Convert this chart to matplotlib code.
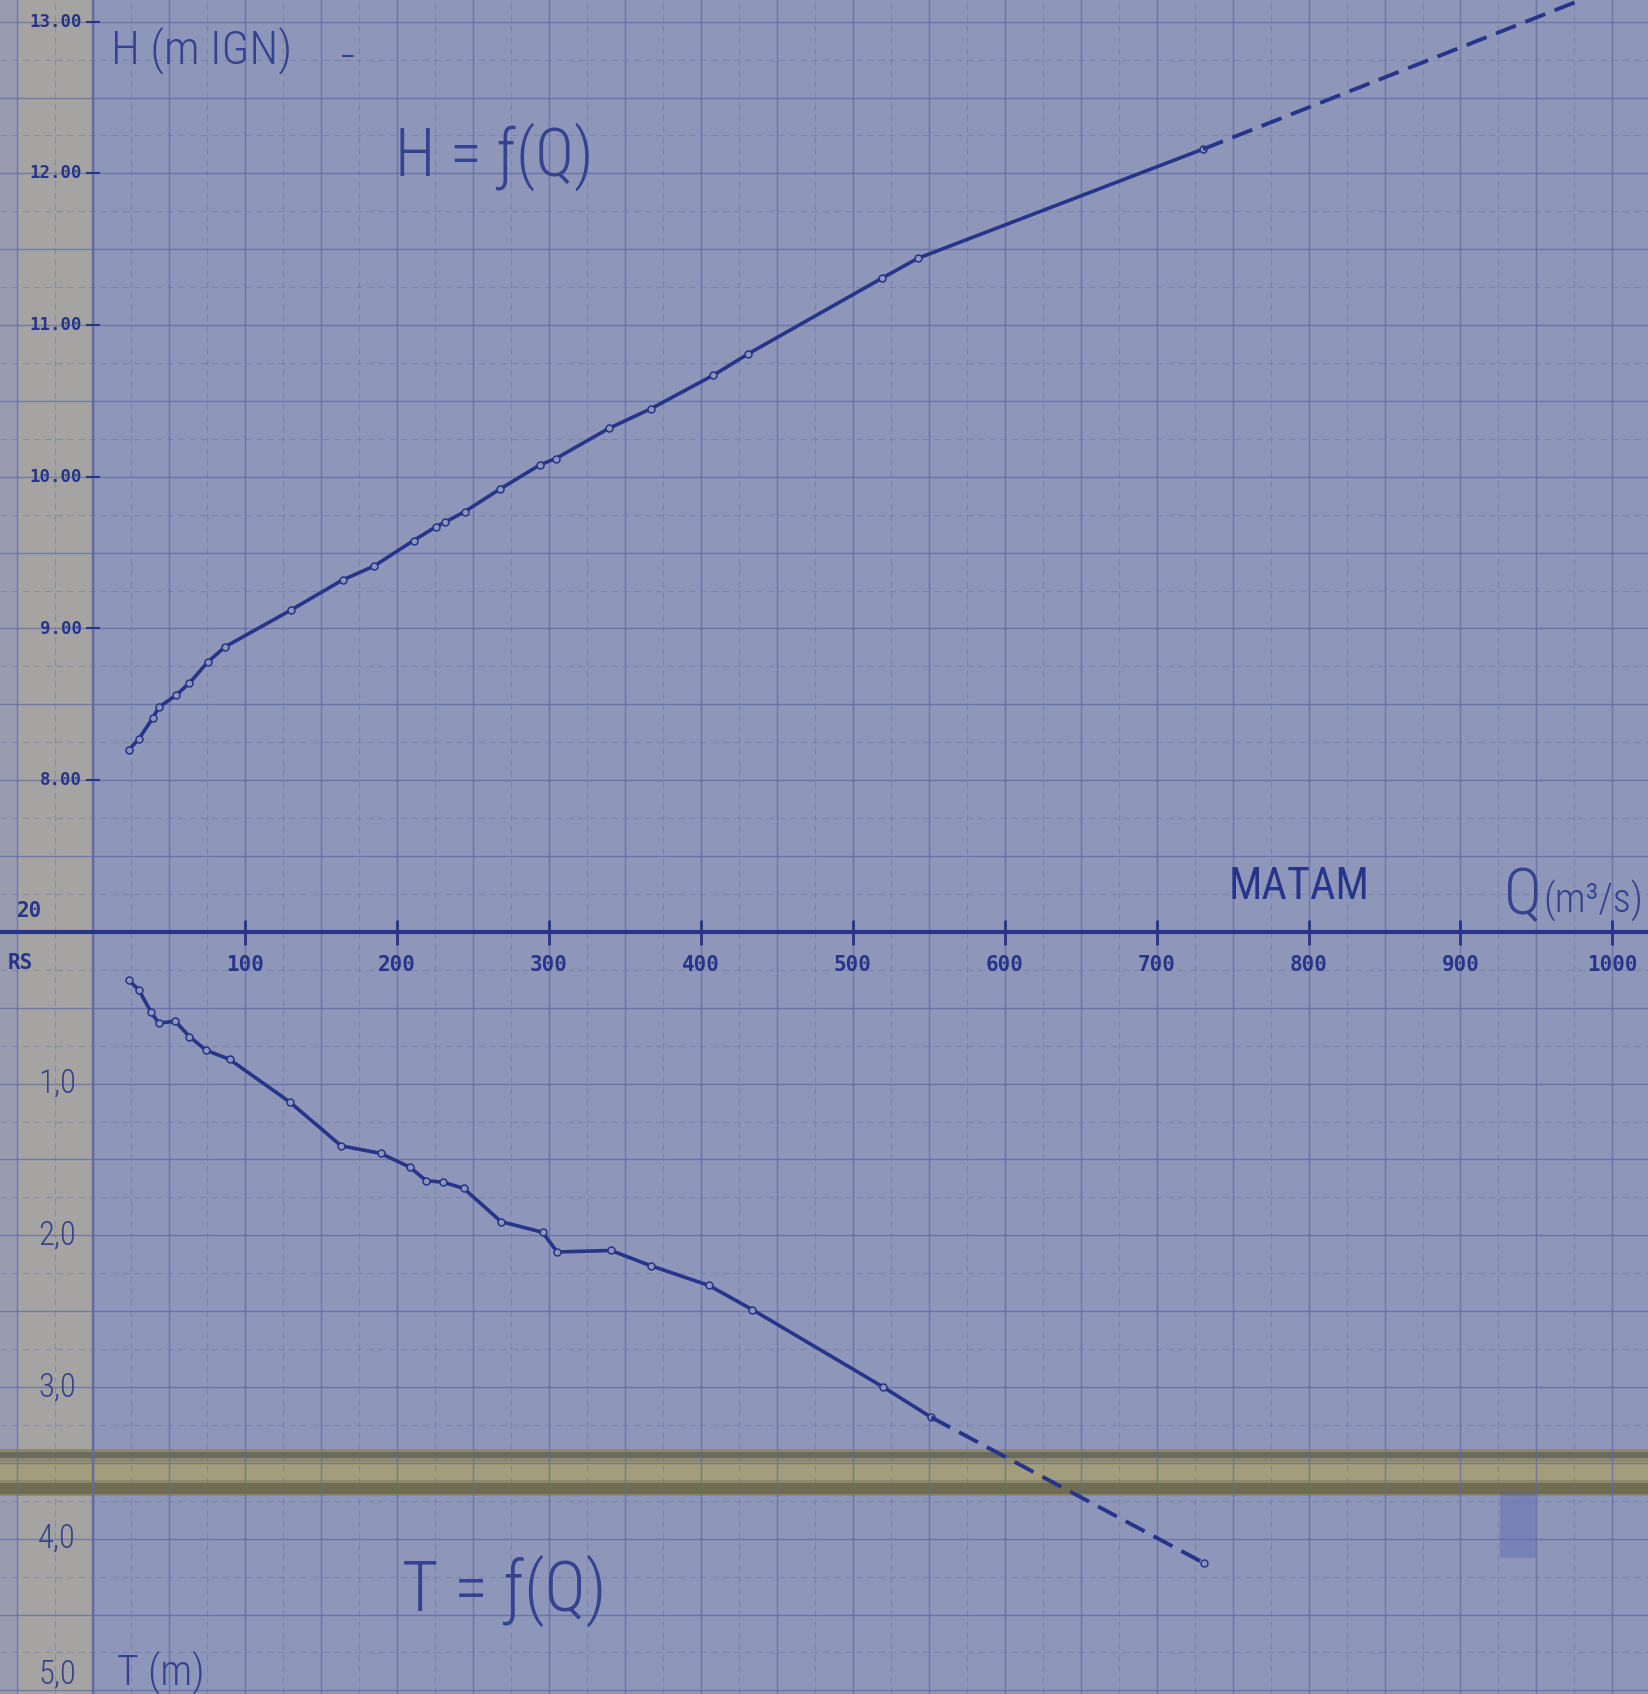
import matplotlib.pyplot as plt
from matplotlib import font_manager
from matplotlib.patches import Rectangle

# ── data (MATAM rating curves) ────────────────────────────
# H = f(Q) : water level (m IGN) against discharge (m3/s)
q_h   = [23.3, 29.8, 39.1, 43.0, 54.4, 63.2, 75.4, 86.8, 129.8, 164.0, 184.5,
         210.8, 225.4, 231.3, 244.4, 267.8, 294.2, 304.4, 339.5, 367.3, 408.2,
         431.0, 519.3, 542.7, 730.5]
h_val = [8.20, 8.27, 8.41, 8.48, 8.56, 8.64, 8.78, 8.88, 9.12, 9.32, 9.41,
         9.58, 9.67, 9.70, 9.77, 9.92, 10.08, 10.12, 10.32, 10.45, 10.67,
         10.81, 11.31, 11.44, 12.16]
q_h_ext = [730.5, 986.0]          # dashed extrapolation
h_ext   = [12.16, 13.17]

# T = f(Q) : depth (m) against discharge (m3/s)
q_t   = [23.3, 29.8, 38.0, 43.0, 54.0, 63.2, 74.2, 89.6, 129.1, 163.1, 189.1,
         208.2, 219.1, 230.1, 243.7, 268.4, 295.7, 305.3, 340.8, 366.8, 405.1,
         433.8, 519.9, 551.6]
t_val = [0.32, 0.38, 0.53, 0.60, 0.59, 0.69, 0.78, 0.84, 1.12, 1.41, 1.46,
         1.55, 1.64, 1.65, 1.69, 1.91, 1.98, 2.11, 2.10, 2.20, 2.33,
         2.49, 3.00, 3.20]
q_t_ext = [551.6, 731.0]
t_ext   = [3.20, 4.16]

q_ticks  = [100, 200, 300, 400, 500, 600, 700, 800, 900, 1000]
q_labels = ["100", "200", "300", "400", "500", "600", "700", "800", "900", "1000"]
h_ticks  = [8, 9, 10, 11, 12, 13]
h_labels = ["8.00", "9.00", "10.00", "11.00", "12.00", "13.00"]
t_ticks  = [1, 2, 3, 4, 5]
t_labels = ["1,0", "2,0", "3,0", "4,0", "5,0"]

# ── sheet geometry (pixels of the scan) ───────────────────
W, HGT = 1649, 1694
X0, PXQ = 93.4, 1.519      # Q = 0 column, px per m3/s
AX, PXM = 931.9, 151.7     # Q axis row, px per metre

q_min, q_max = -X0 / PXQ, (W - X0) / PXQ
h_top = 7 + AX / PXM
t_bot = (HGT - AX) / PXM

PAPER = "#8e96b9"
INK   = "#26348a"
HAND_INK = "#34428f"
GRID  = "#5f6ca4"

names = {f.name for f in font_manager.fontManager.ttflist}
HAND = [n for n in ["Roboto Condensed", "Liberation Sans Narrow", "DejaVu Sans"]
        if n in names] or ["DejaVu Sans"]
HAND = HAND + ["DejaVu Sans"]
STAMP = "DejaVu Sans Mono"

fig = plt.figure(figsize=(W / 100, HGT / 100), dpi=100, facecolor=PAPER)
renderer = fig.canvas.get_renderer()

def fx(px):
    return px / W

def fy(py):
    return 1 - py / HGT

def fit(t, width_px):
    # hand lettering is narrow: size the text to the width it takes on the sheet
    bb = t.get_window_extent(renderer)
    t.set_fontsize(t.get_fontsize() * width_px / bb.width)

# ── background: paper edge, fold band, ink smudge ─────────
bg = fig.add_axes([0, 0, 1, 1], zorder=-1)
bg.set_xlim(0, 1); bg.set_ylim(0, 1); bg.axis("off")
bg.set_facecolor(PAPER)
bg.add_patch(Rectangle((0, 0), fx(18), 1, color="#c2b58c", alpha=0.22, lw=0))
bg.add_patch(Rectangle((fx(18), 0), fx(75), 1, color="#c4b68a", alpha=0.45, lw=0))
bg.add_patch(Rectangle((0, fy(1496)), 1, fy(1449) - fy(1496), color="#8c886c", lw=0))
bg.add_patch(Rectangle((0, fy(1480)), 1, fy(1462) - fy(1480), color="#a49d7b", lw=0))
bg.add_patch(Rectangle((0, fy(1494)), 1, fy(1483) - fy(1494), color="#6f6c52", lw=0))
bg.add_patch(Rectangle((0, fy(1458)), 1, fy(1452) - fy(1458), color="#6b6a5e", lw=0))
bg.add_patch(Rectangle((fx(1500), fy(1558)), fx(36), fy(1492) - fy(1558),
                       color="#4656b4", alpha=0.3, lw=0))

# ── two panels sharing the Q scale ───────────────────────
ax_h = fig.add_axes([0, fy(AX), 1, 1 - fy(AX)])
ax_t = fig.add_axes([0, 0, 1, fy(AX)])

for ax in (ax_h, ax_t):
    ax.set_facecolor("none")
    for s in ax.spines.values():
        s.set_visible(False)
    ax.set_xticks(range(-50, 1051, 50))
    ax.set_xticks(range(-25, 1051, 50), minor=True)
    ax.tick_params(which="both", length=0, labelbottom=False, labelleft=False)
    ax.grid(which="major", color=GRID, lw=1.0, alpha=0.75)
    ax.grid(which="minor", color=GRID, lw=0.8, alpha=0.4, ls=(0, (6, 4)))
    ax.axvline(0, color=GRID, lw=1.7, alpha=0.95)

ax_h.set_yticks([7 + 0.5 * i for i in range(14)])
ax_h.set_yticks([7.25 + 0.5 * i for i in range(13)], minor=True)
ax_t.set_yticks([0.5 * i for i in range(11)])
ax_t.set_yticks([0.25 + 0.5 * i for i in range(11)], minor=True)

# limits last, so the grid ticks do not widen the view
for ax in (ax_h, ax_t):
    ax.set_xlim(q_min, q_max)
ax_h.set_ylim(7, h_top)
ax_t.set_ylim(t_bot, 0)

# Q axis line and tick marks
ax_t.axhline(0, color=INK, lw=3, clip_on=False, zorder=3)
ax_t.plot(q_ticks, [0] * len(q_ticks), ls="none", marker="|", ms=18, mew=2,
          color=INK, clip_on=False, zorder=3)
ax_h.plot([0] * len(h_ticks), h_ticks, ls="none", marker="_", ms=10, mew=1.5,
          color=INK, clip_on=False, zorder=3)

# ── the curves ───────────────────────────────────────────
mk = dict(marker="o", ms=5, mew=1.1, mfc=PAPER, mec=INK)
ax_h.plot(q_h, h_val, color=INK, lw=2.6, zorder=4, **mk)
ax_h.plot(q_h_ext, h_ext, color=INK, lw=2.8, dashes=(5.5, 2.6), zorder=4)
ax_t.plot(q_t, t_val, color=INK, lw=2.6, zorder=4, **mk)
ax_t.plot(q_t_ext, t_ext, color=INK, lw=2.8, dashes=(5.5, 2.6), zorder=4)
ax_t.plot(q_t_ext[-1:], t_ext[-1:], ls="none", **mk)

# ── scale labels ─────────────────────────────────────────
for q, lab in zip(q_ticks, q_labels):
    ax_t.text(q, 0.218, lab, ha="center", va="center", fontsize=15,
              fontweight="bold", family=STAMP, color=INK)
for h, lab in zip(h_ticks, h_labels):
    ax_h.text(-7.5, h, lab, ha="right", va="center", fontsize=12.5,
              fontweight="bold", family=STAMP, color=INK)
for t, lab in zip(t_ticks, t_labels):
    tl = ax_t.text(-11.5, t, lab, ha="right", va="bottom" if t == 5 else "center",
                   fontsize=26, family=HAND, fontstretch="condensed",
                   fontweight="light", color=HAND_INK)
    fit(tl, 38)

fig.text(fx(30), fy(911), "20", ha="center", va="center", fontsize=15,
         fontweight="bold", family=STAMP, color=INK)
fig.text(fx(33), fy(963), "RS", ha="right", va="center", fontsize=15,
         fontweight="bold", family=STAMP, color=INK)

# ── lettering ────────────────────────────────────────────
lettering = [
    # text, left px, baseline px, size, width px
    ("H (m IGN)", 111, 63, 34, 181),
    ("H = ƒ(Q)", 395, 176, 41, 199),
    ("T = ƒ(Q)", 402, 1611, 41, 205),
    ("T (m)", 117, 1684, 32, 88),
    ("MATAM", 1229, 899, 35, 141),
    ("Q", 1504, 914, 50, 38),
    ("(m³/s)", 1543, 912, 33, 100),
]
for txt, x, y, size, width in lettering:
    tl = fig.text(fx(x), fy(y), txt, ha="left", va="baseline", fontsize=size,
                  family=HAND, fontstretch="condensed",
                  fontweight="normal" if txt == "MATAM" else "light",
                  color=INK if txt == "MATAM" else HAND_INK)
    fit(tl, width)

fig.text(fx(348), fy(66), "–", ha="center", va="baseline", fontsize=20,
         family=HAND, color=HAND_INK)

fig.savefig("out.png", dpi=100, facecolor=PAPER)
